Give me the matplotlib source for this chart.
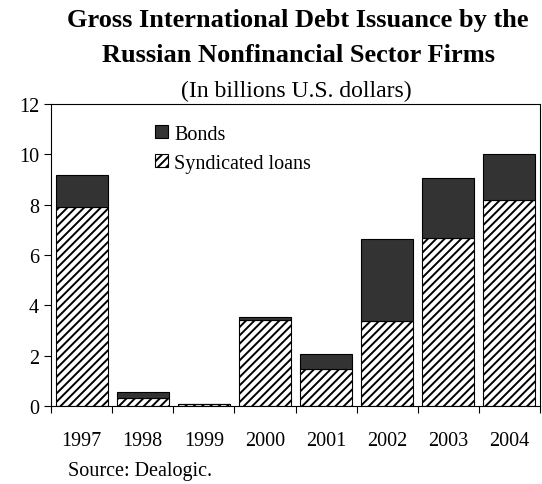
import numpy as np
import matplotlib.pyplot as plt

plt.rcParams['font.family'] = ['Liberation Serif', 'DejaVu Serif']
plt.rcParams['hatch.linewidth'] = 1.4

# Gross issuance, billions of U.S. dollars
years = ["1997", "1998", "1999", "2000", "2001", "2002", "2003", "2004"]
loans = [7.92, 0.32, 0.08, 3.41, 1.47, 3.39, 6.69, 8.19]
bonds = [1.25, 0.24, 0.0, 0.11, 0.59, 3.26, 2.35, 1.83]

fig = plt.figure(figsize=(5.42, 4.85), dpi=100)
ax = fig.add_axes([51 / 542, 1 - 407 / 485, 489 / 542, 302 / 485])

x = np.arange(len(years))
ax.bar(x, loans, width=0.85, color="white", edgecolor="black", hatch="////",
       linewidth=0.8, label="Syndicated loans")
ax.bar(x, bonds, width=0.85, bottom=loans, color="#333333", edgecolor="black",
       linewidth=0.8, label="Bonds")

ax.set_xlim(-0.5, len(years) - 0.5)
ax.set_ylim(0, 12)
ax.set_yticks(range(0, 13, 2))
ax.set_xticks(np.arange(len(years) + 1) - 0.5)
ax.set_xticklabels([])
ax.set_xticks(x, minor=True)
ax.set_xticklabels(years, minor=True)
ax.tick_params(axis="x", which="minor", length=0, pad=18, labelsize=14.5)
ax.tick_params(axis="x", which="major", direction="out", length=5, width=0.8)
ax.tick_params(axis="y", direction="out", length=5, width=0.8, labelsize=14.5)
for s in ax.spines.values():
    s.set_linewidth(0.8)

handles, labels = ax.get_legend_handles_labels()
ax.legend(handles[::-1], labels[::-1], loc="upper left", bbox_to_anchor=(0.213, 0.932),
          frameon=False, fontsize=14.5, handlelength=0.65, handleheight=0.65,
          handletextpad=0.3, labelspacing=0.5, borderaxespad=0, borderpad=0)

fig.text(0.55, 1 - 27 / 485, "Gross International Debt Issuance by the",
         ha="center", va="baseline", fontsize=19, fontweight="bold")
fig.text(0.55, 1 - 62 / 485, "Russian Nonfinancial Sector Firms",
         ha="center", va="baseline", fontsize=19, fontweight="bold")
fig.text(0.546, 1 - 97 / 485, "(In billions U.S. dollars)", ha="center", va="baseline", fontsize=17)
fig.text(68 / 542, 1 - 472 / 485, "Source: Dealogic.", ha="left", va="center", fontsize=14.5)

fig.savefig("out.png", dpi=100)
